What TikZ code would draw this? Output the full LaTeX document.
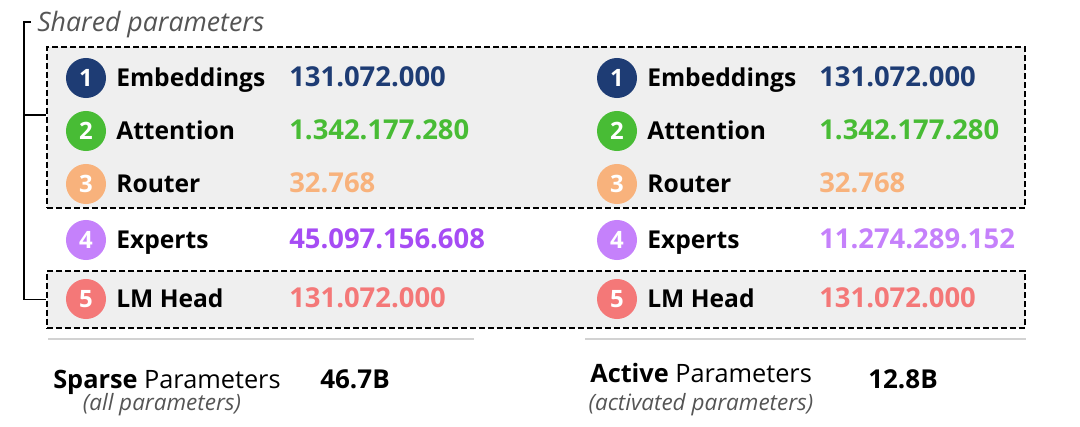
\documentclass[tikz,border=0pt]{standalone}
\usepackage{fontspec}
\setmainfont{Open Sans}
\usetikzlibrary{positioning,fit}

\definecolor{embblue}{HTML}{1E3C74}
\definecolor{attgreen}{HTML}{48BC35}
\definecolor{routorange}{HTML}{F8B27C}
\definecolor{expviolet}{HTML}{C581FB}
\definecolor{expvioletdark}{HTML}{A64CF4}
\definecolor{headred}{HTML}{F47878}
\definecolor{boxgray}{HTML}{EFEFEF}
\definecolor{rulegray}{HTML}{D2D2D2}
\definecolor{notegray}{HTML}{555555}

\begin{document}
\begin{tikzpicture}[
            x=0.025cm, y=-0.025cm,
            num/.style={circle, minimum size=1cm, inner sep=0pt, text=white,
                font=\fontsize{17}{17}\selectfont\bfseries},
            part/.style={anchor=mid west, inner sep=0pt, yshift=-3.5pt,
                font=\fontsize{17.5}{17.5}\selectfont\bfseries},
            count/.style={anchor=mid west, inner sep=0pt, yshift=-3.5pt,
                font=\fontsize{19.5}{19.5}\selectfont\bfseries},
            sharedbox/.style={draw, fill=boxgray, inner sep=0pt, line width=1.7pt,
                dash pattern=on 4pt off 2.4pt},
            rule/.style={draw=rulegray, line width=0.8pt},
            total/.style={anchor=mid west, inner sep=0pt, yshift=-4.5pt, font=\fontsize{18}{18}\selectfont},
            sum/.style={total, font=\fontsize{18.5}{18.5}\selectfont\bfseries},
            note/.style={inner sep=0pt, yshift=-1.5pt, text=notegray, font=\fontsize{16}{16}\selectfont\itshape}
        ]
        \useasboundingbox (0,0) rectangle (1080,427);

        % shared boxes
        \coordinate (ut) at (47,47);
        \coordinate (ub) at (1025,208);
        \coordinate (lt) at (47,271);
        \coordinate (lb) at (1025,328);
        \node[sharedbox, fit=(ut)(ub)] (upper) {};
        \node[sharedbox, fit=(lt)(lb)] (lower) {};

        % bracket
        \coordinate (brktop) at (31,22);
        \coordinate (brkmid) at (24,115);
        \node[anchor=mid west, inner sep=0pt, yshift=-4pt, text=notegray,
            font=\fontsize{19}{19}\selectfont\itshape] (shared) at (37,22) {Shared parameters};
        \draw[line width=0.8pt] (brktop) -- ++(-7,0) |- (lower.west);
        \draw[line width=0.8pt] (brkmid) -- (upper.west |- brkmid);

        % left column
        \node[num, fill=embblue] (a1) at (86,78) {1};
        \node[num, fill=attgreen] (a2) at (86,131) {2};
        \node[num, fill=routorange] (a3) at (86,184) {3};
        \node[num, fill=expviolet] (a4) at (86,240) {4};
        \node[num, fill=headred] (a5) at (86,299) {5};

        \node[part] (pa1) at (116,78) {Embeddings};
        \node[part] (pa2) at (116,131) {Attention};
        \node[part] (pa3) at (116,184) {Router};
        \node[part] (pa4) at (116,240) {Experts};
        \node[part] (pa5) at (116,299) {LM Head};

        \node[count, text=embblue] (ca1) at (289,78) {131.072.000};
        \node[count, text=attgreen] (ca2) at (289,131) {1.342.177.280};
        \node[count, text=routorange] (ca3) at (289,184) {32.768};
        \node[count, text=expvioletdark] (ca4) at (289,240) {45.097.156.608};
        \node[count, text=headred] (ca5) at (289,299) {131.072.000};

        % right column
        \node[num, fill=embblue] (b1) at (617,78) {1};
        \node[num, fill=attgreen] (b2) at (617,131) {2};
        \node[num, fill=routorange] (b3) at (617,184) {3};
        \node[num, fill=expviolet] (b4) at (617,240) {4};
        \node[num, fill=headred] (b5) at (617,299) {5};

        \node[part] (pb1) at (647,78) {Embeddings};
        \node[part] (pb2) at (647,131) {Attention};
        \node[part] (pb3) at (647,184) {Router};
        \node[part] (pb4) at (647,240) {Experts};
        \node[part] (pb5) at (647,299) {LM Head};

        \node[count, text=embblue] (cb1) at (819,78) {131.072.000};
        \node[count, text=attgreen] (cb2) at (819,131) {1.342.177.280};
        \node[count, text=routorange] (cb3) at (819,184) {32.768};
        \node[count, text=expviolet] (cb4) at (819,240) {11.274.289.152};
        \node[count, text=headred] (cb5) at (819,299) {131.072.000};

        % totals
        \coordinate (rla) at (48,339);
        \coordinate (rlb) at (474,339);
        \coordinate (rra) at (585,339);
        \coordinate (rrb) at (1026,339);
        \draw[rule] (rla) -- (rlb);
        \draw[rule] (rra) -- (rrb);

        \node[total] (sparse) at (53,378) {\textbf{Sparse} Parameters};
        \node[sum] (sparsen) at (320,378) {46.7B};
        \node[note] (sparsenote) at (162,403) {(all parameters)};

        \node[total] (active) at (590,372) {\textbf{Active} Parameters};
        \node[sum] (activen) at (868,378) {12.8B};
        \node[note] (activenote) at (701,403) {(activated parameters)};
    \end{tikzpicture}
\end{document}
